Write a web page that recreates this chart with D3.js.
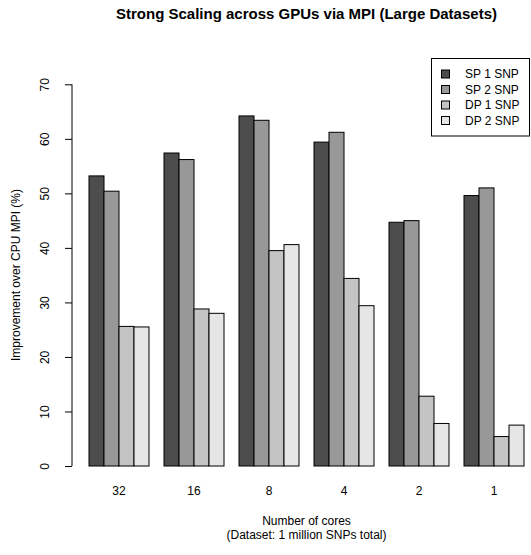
<!DOCTYPE html>
<html>
<head>
<meta charset="utf-8">
<script src="https://cdn.jsdelivr.net/npm/d3@7"></script>
<style>
  body { margin: 0; background: #fff; }
  svg { font-family: "Liberation Sans", Arial, sans-serif; }
</style>
</head>
<body>
<div id="main"></div>
<script>
const cores = ["32", "16", "8", "4", "2", "1"];
const seriesNames = ["SP 1 SNP", "SP 2 SNP", "DP 1 SNP", "DP 2 SNP"];
const sp1 = [53.2, 57.4, 64.2, 59.4, 44.7, 49.6];
const sp2 = [50.4, 56.2, 63.4, 61.2, 45.0, 51.0];
const dp1 = [25.6, 28.8, 39.5, 34.4, 12.8, 5.4];
const dp2 = [25.5, 28.0, 40.6, 29.4, 7.8, 7.5];
const yTicks = [0, 10, 20, 30, 40, 50, 60, 70];
const greys = ["#4d4d4d", "#989898", "#c4c4c4", "#e6e6e6"];

const allSeries = [sp1, sp2, dp1, dp2];

const width = 531, height = 555;

const svg = d3.select("#main")
  .append("svg")
  .attr("width", width)
  .attr("height", height);

// group scale: 4 bars per group, one bar-width of space between groups
const x0 = d3.scaleBand()
  .domain(cores)
  .range([81.5, 531.5])
  .paddingInner(0.2)
  .paddingOuter(0.1);

const x1 = d3.scaleBand()
  .domain(seriesNames)
  .range([0, x0.bandwidth()]);

const y = d3.scaleLinear()
  .domain([0, 70])
  .range([466, 84.3]);

const color = d3.scaleOrdinal()
  .domain(seriesNames)
  .range(greys);

let bars = [];
cores.forEach((c, i) => {
  seriesNames.forEach((s, j) => {
    bars.push({core: c, series: s, value: allSeries[j][i]});
  });
});

svg.append("g")
  .selectAll("rect")
  .data(bars)
  .enter()
  .append("rect")
  .attr("x", d => x0(d.core) + x1(d.series))
  .attr("y", d => y(d.value))
  .attr("width", x1.bandwidth())
  .attr("height", d => y(0) - y(d.value))
  .attr("fill", d => color(d.series))
  .attr("stroke", "#000")
  .attr("stroke-width", 1);

// y axis
const yAxis = svg.append("g")
  .attr("transform", "translate(72,0)")
  .call(d3.axisLeft(y).tickValues(yTicks).tickSize(7).tickPadding(0).tickFormat(d3.format("d")));
yAxis.select(".domain").attr("d", `M0,${y(0)}V${y(70)}`);
yAxis.selectAll("text").remove();
yAxis.selectAll(".tick")
  .append("text")
  .attr("transform", "translate(-27,0) rotate(-90)")
  .attr("text-anchor", "middle")
  .attr("dy", "0.35em")
  .attr("fill", "#000")
  .attr("font-size", 12)
  .text(d => d);

// x labels (no axis line)
svg.append("g")
  .selectAll("text")
  .data(cores)
  .enter()
  .append("text")
  .attr("x", d => x0(d) + x0.bandwidth() / 2)
  .attr("y", 491)
  .attr("dy", "0.35em")
  .attr("text-anchor", "middle")
  .attr("font-size", 12)
  .text(d => d);

// titles
svg.append("text")
  .attr("x", 306.5)
  .attr("y", 14)
  .attr("dy", "0.35em")
  .attr("text-anchor", "middle")
  .attr("font-size", 15)
  .attr("font-weight", "bold")
  .text("Strong Scaling across GPUs via MPI (Large Datasets)");

svg.append("text")
  .attr("x", 306.5)
  .attr("y", 521)
  .attr("dy", "0.35em")
  .attr("text-anchor", "middle")
  .attr("font-size", 12)
  .text("Number of cores");

svg.append("text")
  .attr("x", 306.5)
  .attr("y", 535)
  .attr("dy", "0.35em")
  .attr("text-anchor", "middle")
  .attr("font-size", 12)
  .text("(Dataset: 1 million SNPs total)");

svg.append("text")
  .attr("transform", "translate(16,275) rotate(-90)")
  .attr("dy", "0.35em")
  .attr("text-anchor", "middle")
  .attr("font-size", 12)
  .text("Improvement over CPU MPI (%)");

// legend
const legend = svg.append("g").attr("id", "legend");
legend.append("rect")
  .attr("x", 431.5)
  .attr("y", 58.5)
  .attr("width", 98)
  .attr("height", 77.5)
  .attr("fill", "#fff")
  .attr("stroke", "#000");

const items = legend.selectAll("g.item")
  .data(seriesNames)
  .enter()
  .append("g")
  .attr("class", "item")
  .attr("transform", (d, i) => `translate(0,${74 + i * 15.5})`);

items.append("rect")
  .attr("x", 441.5)
  .attr("y", -4)
  .attr("width", 8)
  .attr("height", 8)
  .attr("fill", d => color(d))
  .attr("stroke", "#000");

items.append("text")
  .attr("x", 465)
  .attr("dy", "0.35em")
  .attr("font-size", 12)
  .text(d => d);
</script>
</body>
</html>
